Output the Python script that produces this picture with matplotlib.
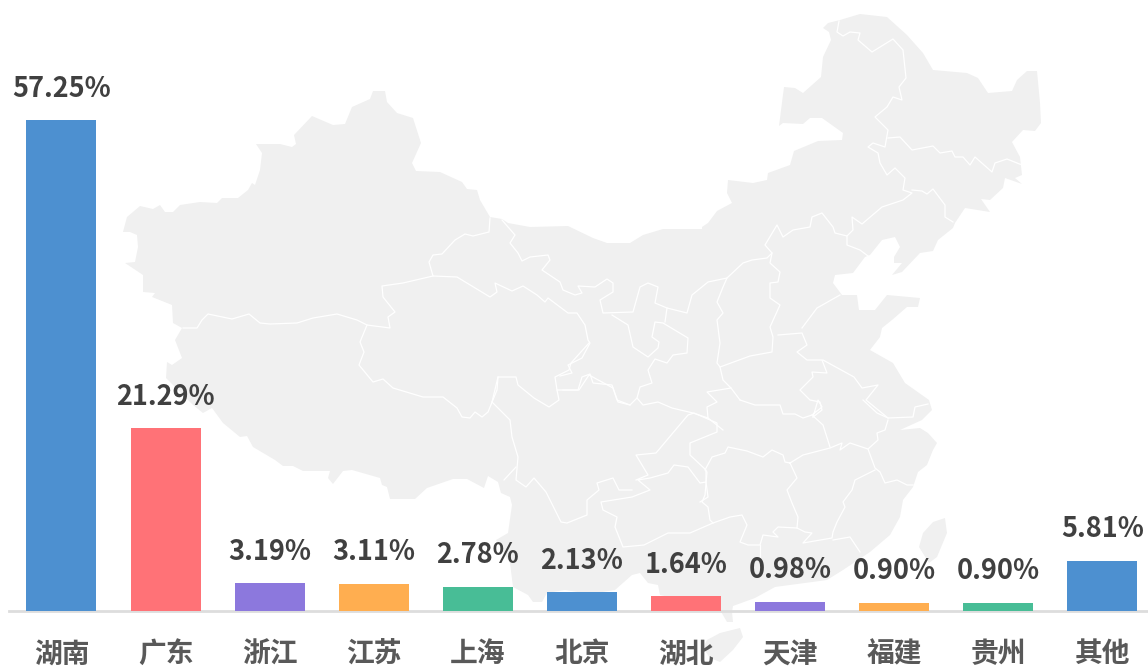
import matplotlib
matplotlib.use('Agg')
import matplotlib.pyplot as plt

plt.rcParams['font.family'] = ['Noto Sans CJK SC', 'DejaVu Sans']

# ---- chart data ----
provinces = ['湖南', '广东', '浙江', '江苏', '上海', '北京', '湖北', '天津', '福建', '贵州', '其他']
shares = [57.25, 21.29, 3.19, 3.11, 2.78, 2.13, 1.64, 0.98, 0.90, 0.90, 5.81]
bar_colors = ['#4d90d0', '#ff7277', '#8c78dd', '#ffae50', '#48bd96',
              '#4d90d0', '#ff7277', '#8c78dd', '#ffae50', '#48bd96', '#4d90d0']

# ---- background map, traced in image pixels ----
map_outline = [
    (175,340),(182,328),(173,323),(172,305),(152,297),(155,293),(143,292),(143,275),(125,263),(135,262),
    (138,247),(137,235),(130,232),(123,232),(127,217),(140,206),(153,209),(160,205),(165,212),(173,212),
    (180,205),(200,202),(217,203),(222,198),(238,198),(248,190),(252,183),(255,185),(260,170),(262,153),
    (256,144),(280,144),(292,147),(296,144),(294,135),(312,116),(333,125),(345,124),(352,107),(370,99),
    (373,91),(385,91),(387,102),(397,113),(413,118),(421,143),(412,163),(416,171),(440,172),(462,182),
    (467,189),(477,190),(480,200),(490,217),(502,219),(508,223),(530,227),(568,226),(593,238),(607,243),
    (630,243),(643,235),(663,229),(702,229),(702,227),(708,223),(717,211),(732,203),(727,193),(728,180),
    (753,183),(767,180),(768,173),(790,165),(794,151),(818,141),(842,140),(843,133),(822,118),(810,118),
    (803,124),(783,123),(779,126),(784,87),(795,88),(803,93),(821,77),(823,57),(831,40),(829,32),
    (823,28),(828,23),(840,20),(860,14),(887,17),(907,35),(923,53),(933,70),(967,73),(978,78),
    (988,93),(1012,91),(1017,80),(1027,71),(1037,71),(1040,103),(1041,123),(1035,131),(1023,130),(1012,142),
    (1020,157),(1022,175),(1015,178),(1022,184),(1005,178),(1003,188),(990,200),(981,199),(990,212),(965,208),
    (955,223),(953,228),(938,240),(933,251),(920,253),(902,272),(892,275),(902,263),(894,263),(894,257),
    (900,247),(895,237),(882,240),(870,255),(865,257),(853,273),(835,275),(833,283),(842,295),(857,295),
    (859,310),(875,310),(887,295),(920,298),(918,307),(907,307),(892,320),(882,328),(880,337),(870,350),
    (893,363),(905,383),(929,400),(932,410),(922,420),(900,430),(920,428),(928,433),(937,443),(933,450),
    (927,465),(918,472),(913,487),(903,500),(900,517),(890,535),(870,552),(843,570),(827,580),(775,587),
    (755,598),(733,606),(732,612),(733,622),(727,622),(720,610),(700,604),(660,595),(658,585),(648,583),
    (640,573),(632,575),(615,590),(590,594),(565,590),(547,593),(542,602),(533,602),(528,595),(513,587),
    (510,563),(496,540),(508,533),(512,505),(510,497),(501,493),(498,482),(488,476),(484,488),(467,479),
    (453,479),(427,488),(415,499),(390,499),(387,487),(382,485),(380,478),(352,470),(343,471),(333,484),
    (328,478),(330,471),(303,471),(293,466),(283,466),(275,460),(253,447),(247,436),(240,437),(223,423),
    (212,408),(203,413),(193,405),(180,392),(166,378),(167,362),(172,365),(182,358),
]
taiwan_outline = [(945,518),(947,533),(937,557),(929,563),(919,547),(923,533),(933,522)]
hainan_outline = [(707,640),(720,633),(740,628),(743,637),(733,650),(720,662),(710,658),(703,648)]

map_borders = [
    [(183,328),(197,328),(202,320),(208,314),(232,319),(249,314),(260,323),(270,324),(297,323),(313,318),
     (337,314),(357,320),(367,325),(390,328),(388,317),(395,312),(383,297),(382,286),(403,283),(433,276),
     (457,277),(490,297),(497,292),(495,283),(512,291),(523,286),(537,295),(545,302),(548,298),(568,313),
     (577,313),(585,325),(588,340),(590,343),(582,358),(568,365),(572,373),(560,376)],
    [(433,276),(429,262),(433,255),(442,254),(455,240),(465,234),(473,236),(489,232),(490,218)],
    [(502,220),(515,235),(510,243),(518,253),(522,261),(530,257),(548,255),(550,260),(542,270),(560,282),
     (563,290),(575,295),(582,293),(578,286),(595,287),(607,279),(613,283),(613,292),(600,300),(603,313),
     (633,312),(640,287),(648,283),(658,287),(655,303),(667,308),(687,313),(692,295),(708,282),(727,278),
     (743,263),(752,260),(767,258),(772,253),(765,245),(777,225),(783,237),(793,230),(810,227),(812,217),
     (822,213),(833,227),(835,233),(847,236),(853,230),(852,217),(862,224),(882,207),(903,200),(912,193),
     (903,190),(905,178),(895,168),(887,175),(880,163),(878,153),(868,147),(873,143),(885,147),(888,130),
     (875,117),(887,107),(893,97),(902,100),(899,87),(906,78),(903,50),(893,39),(872,52),(858,40),
     (860,33),(850,32),(843,36),(837,32),(839,21)],
    [(888,138),(900,137),(912,150),(933,146),(940,153),(952,151),(955,157),(963,157),(970,165),(975,157),
     (992,172),(995,163),(1007,159),(1022,165)],
    [(912,190),(922,191),(927,194),(933,189),(945,205),(945,217),(953,222)],
    [(847,236),(847,245),(860,250),(868,256)],
    [(772,253),(770,263),(780,272),(778,282),(770,283),(770,298),(780,305),(770,327),(773,337),(772,352),
     (750,356),(720,367),(717,363),(720,343),(717,320),(723,313),(717,302),(723,287),(727,278)],
    [(720,367),(723,380),(731,388),(707,392),(717,402),(707,407),(708,418),(693,413),(672,408),(658,402),
     (643,405),(637,398),(630,405),(618,402),(612,385),(593,383),(590,374),(582,377),(578,390),(563,390)],
    [(637,398),(640,387),(652,383),(648,370),(655,359),(667,363),(673,355),(687,353),(688,338),(663,323),
     (655,322),(652,337),(659,342),(658,348),(648,357),(633,347),(628,325),(612,315)],
    [(667,308),(665,322)],
    [(778,335),(802,333),(807,345),(797,352),(807,360),(822,360),(827,373),(812,372),(813,377),(807,383),
     (800,390),(810,400),(820,402),(822,410),(813,417)],
    [(802,328),(817,308),(840,295)],
    [(823,360),(854,377),(862,388),(878,385),(866,400),(888,418),(913,417),(915,407),(928,404)],
    [(888,420),(885,430),(877,433),(878,440),(868,449),(875,468),(880,472),(885,483),(897,480),(907,485),(913,485)],
    [(868,449),(850,443),(840,450),(842,443),(830,448),(803,455),(790,463),(785,462),(783,455),(772,450),
     (763,457),(747,451),(728,447),(725,453),(712,457),(705,470),(707,472),(705,495),(702,502),(708,507),
     (710,520),(713,523),(730,517),(742,515),(747,525),(740,542),(748,545),(760,545),(763,535),(778,537),
     (773,532),(778,527),(797,528),(798,517),(792,503),(787,490),(797,478),(790,463)],
    [(797,528),(805,532),(812,533),(803,543),(832,538),(833,532),(837,522),(845,507),(843,502),(852,490),
     (855,480),(875,470)],
    [(833,540),(850,537),(860,552)],
    [(760,545),(760,557)],
    [(713,523),(690,533),(668,533),(644,545),(623,547),(615,527),(617,517),(603,510),(601,502),(632,497),
     (650,490),(638,480),(650,478),(668,473),(674,465),(688,467),(700,483),(706,482),(706,470),(690,455),
     (690,443),(717,432),(717,423),(694,413),(688,415),(656,453),(636,455),(648,475),(636,480)],
    [(706,482),(708,497),(700,502)],
    [(492,402),(510,420),(512,437),(518,457),(516,480),(526,487),(534,478),(546,492),(561,522),(567,523),
     (587,515),(587,500),(599,490),(597,483),(613,478),(619,490),(632,490)],
    [(516,467),(504,480)],
    [(492,402),(498,377),(516,377),(518,385),(534,398),(549,407),(559,400),(557,390),(579,390),(589,375),
     (613,388),(617,400),(630,405)],
    [(557,390),(555,377),(569,370),(571,363),(589,343)],
    [(367,325),(360,342),(364,352),(359,365),(373,382),(383,379),(393,388),(423,397),(443,397),(457,408),
     (462,417),(470,418),(475,412),(482,417),(488,412),(497,390),(498,377)],
    [(708,418),(723,430)],
    [(740,400),(755,405),(780,405),(783,414),(795,414),(803,418),(812,415),(823,425),(830,447)],
    [(731,388),(740,400)],
    [(812,415),(822,407),(818,400),(813,417)],
    [(863,400),(877,413),(888,418)],
]

fig = plt.figure(figsize=(11.48, 6.68), dpi=100)

# map goes underneath, one unit = one pixel
bg = fig.add_axes([0, 0, 1, 1])
bg.set_xlim(0, 1148)
bg.set_ylim(668, 0)
bg.axis('off')
for outline in [map_outline, taiwan_outline, hainan_outline]:
    bg.fill(*zip(*outline), color='#f0f0f0', lw=0)
for border in map_borders:
    bg.plot(*zip(*border), color='white', lw=0.9)

# bars
ax = fig.add_axes([9.4 / 1148, 57.5 / 668, 1145 / 1148, 610.5 / 668])
ax.patch.set_alpha(0)
ax.bar(range(len(provinces)), shares, width=0.672, color=bar_colors, zorder=3)
ax.set_xlim(-0.5, 10.5)
ax.set_ylim(0, 71.3)
ax.set_yticks([])
ax.set_xticks(range(len(provinces)), provinces)
ax.tick_params(axis='x', length=0, pad=21.5, labelsize=20, labelcolor='#595959')
for label in ax.get_xticklabels():
    label.set_fontweight('bold')
for side in ['top', 'left', 'right']:
    ax.spines[side].set_visible(False)
ax.spines['bottom'].set_color('#dddddd')
ax.spines['bottom'].set_linewidth(2)

for i, v in enumerate(shares):
    ax.annotate(f'{v:.2f}%', (i, v), xytext=(0, 22.8), textcoords='offset points',
                ha='center', va='center', fontsize=19.5, fontweight='bold', color='#404040')

fig.savefig('out.png', dpi=100)
